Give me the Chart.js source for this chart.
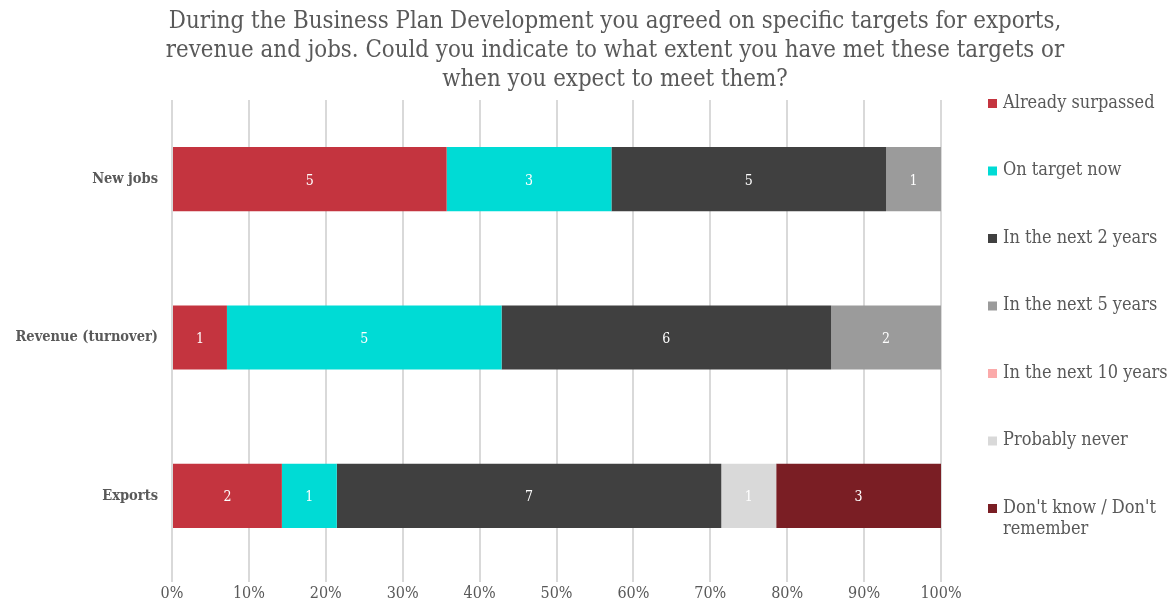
<!DOCTYPE html>
<html lang="en">
  <head>
    <meta charset="UTF-8" />
    <title>Business plan targets</title>
    <style>
      html, body { margin: 0; padding: 0; background: #ffffff; }
      .wrap { position: relative; width: 1171px; height: 604px; }
    </style>
  </head>
  <body>
    <div class="wrap">
      <canvas id="targets"></canvas>
    </div>

    <script src="https://cdn.jsdelivr.net/npm/chart.js"></script>
    <script>
      const SERIF = "'DejaVu Serif Condensed', 'DejaVu Serif', serif";

      const titleLines = [
        "During the Business Plan Development you agreed on specific targets for exports,",
        "revenue and jobs. Could you indicate to what extent you have met these targets or",
        "when you expect to meet them?"
      ];

      const categories = ["New jobs", "Revenue (turnover)", "Exports"];

      // number of respondents per answer, in category order
      const alreadySurpassed = [5, 1, 2];
      const onTargetNow = [3, 5, 1];
      const next2Years = [5, 6, 7];
      const next5Years = [1, 2, 0];
      const next10Years = [0, 0, 0];
      const probablyNever = [0, 0, 1];
      const dontKnow = [0, 0, 3];

      const xTicks = [0, 10, 20, 30, 40, 50, 60, 70, 80, 90, 100];

      const series = [
        { label: "Already surpassed", counts: alreadySurpassed, color: "#c4343f" },
        { label: "On target now", counts: onTargetNow, color: "#00dbd5" },
        { label: "In the next 2 years", counts: next2Years, color: "#404040" },
        { label: "In the next 5 years", counts: next5Years, color: "#9b9b9b" },
        { label: "In the next 10 years", counts: next10Years, color: "#fbaaaa" },
        { label: "Probably never", counts: probablyNever, color: "#d9d9d9" },
        { label: ["Don't know / Don't", "remember"], counts: dontKnow, color: "#7a1e24" }
      ];

      const totals = categories.map((c, i) =>
        series.reduce((sum, s) => sum + s.counts[i], 0)
      );

      const datasets = series.map((s) => ({
        label: Array.isArray(s.label) ? s.label.join(" ") : s.label,
        legendLines: Array.isArray(s.label) ? s.label : [s.label],
        counts: s.counts,
        data: s.counts.map((v, i) => (v * 100) / totals[i]),
        backgroundColor: s.color,
        borderWidth: 0,
        barPercentage: 0.405,
        categoryPercentage: 1
      }));

      // title, legend and value labels drawn straight onto the canvas
      const extras = {
        id: "extras",
        afterDatasetsDraw(chart) {
          const ctx = chart.ctx;
          ctx.save();
          ctx.fillStyle = "#ffffff";
          ctx.font = "14px " + SERIF;
          ctx.textAlign = "center";
          ctx.textBaseline = "middle";
          chart.data.datasets.forEach((ds, di) => {
            const meta = chart.getDatasetMeta(di);
            meta.data.forEach((bar, i) => {
              const n = ds.counts[i];
              if (!n) return;
              const p = bar.getProps(["x", "base", "y"], true);
              ctx.fillText(String(n), (p.x + p.base) / 2, p.y + 2);
            });
          });
          ctx.restore();
        },
        afterDraw(chart) {
          const ctx = chart.ctx;
          ctx.save();
          ctx.fillStyle = "#595959";
          ctx.textBaseline = "middle";

          ctx.font = "23.8px " + SERIF;
          ctx.textAlign = "center";
          titleLines.forEach((t, i) => ctx.fillText(t, 615, 22 + i * 29));

          ctx.font = "18px " + SERIF;
          ctx.textAlign = "left";
          chart.data.datasets.forEach((ds, i) => {
            const y = 103 + i * 67.5;
            ctx.fillStyle = ds.backgroundColor;
            ctx.fillRect(988, y - 4, 9, 9);
            ctx.fillStyle = "#595959";
            ds.legendLines.forEach((line, k) => ctx.fillText(line, 1003, y + k * 21));
          });
          ctx.restore();
        }
      };

      new Chart(document.getElementById("targets"), {
        type: "bar",
        data: { labels: categories, datasets: datasets },
        plugins: [extras],
        options: {
          indexAxis: "y",
          responsive: true,
          maintainAspectRatio: false,
          animation: false,
          layout: { padding: { top: 100, right: 230, bottom: 0, left: 0 } },
          plugins: {
            legend: { display: false },
            title: { display: false },
            tooltip: { enabled: false }
          },
          scales: {
            x: {
              stacked: true,
              min: 0,
              max: 100,
              afterFit(scale) { scale.height = 29; },
              afterBuildTicks(scale) {
                scale.ticks = xTicks.map((v) => ({ value: v }));
              },
              grid: { color: "#d9d9d9", lineWidth: 2, tickLength: 7 },
              border: { display: false },
              ticks: {
                padding: 2,
                color: "#595959",
                font: { family: SERIF, size: 16 },
                callback: (v) => v + "%"
              }
            },
            y: {
              stacked: true,
              afterFit(scale) { scale.width = 172; },
              grid: { display: false },
              border: { display: false },
              ticks: {
                padding: 6,
                color: "#595959",
                font: { family: SERIF, size: 14.5, weight: "bold" }
              }
            }
          }
        }
      });
    </script>
  </body>
</html>
